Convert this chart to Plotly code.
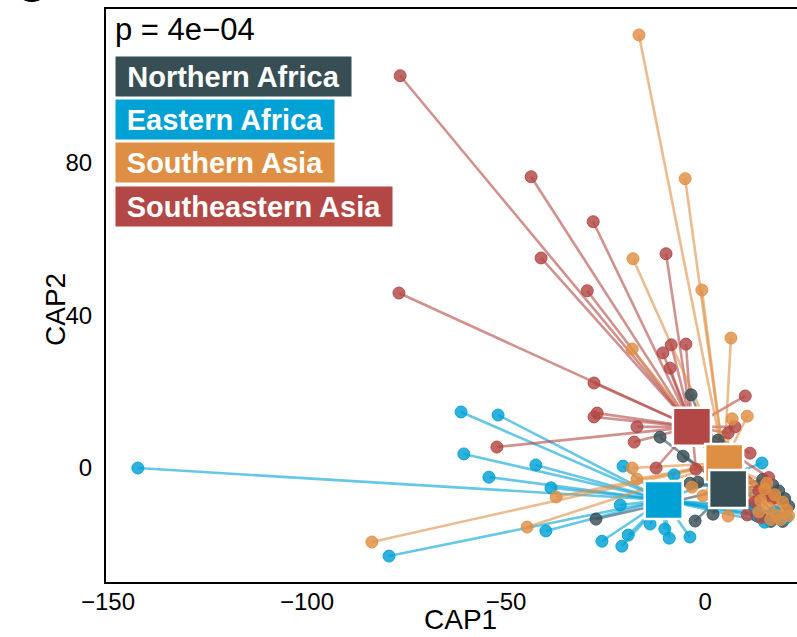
import plotly.graph_objects as go

# ---------------- data ----------------
groups = ["Northern Africa", "Eastern Africa", "Southern Asia", "Southeastern Asia"]
colors = {"Northern Africa": "#374E55", "Eastern Africa": "#00A1D5",
          "Southern Asia": "#DF8F44", "Southeastern Asia": "#B24745"}

centroid_x = {"Northern Africa": 5.8, "Eastern Africa": -10.4,
              "Southern Asia": 4.8, "Southeastern Asia": -3.3}
centroid_y = {"Northern Africa": -5.5, "Eastern Africa": -8.4,
              "Southern Asia": 1.3, "Southeastern Asia": 10.8}

na_x = [-27.4, -11.3, -5.5, -3.5, 3.3, -2.5, 2.0, -1.8, -3.8,
        14.5, 17.0, 20.0, 21.0, 16.5, 19.5, 13.0, 18.5]
na_y = [-13.4, 8.1, 3.1, 19.2, 7.3, -13.9, -12.1, -3.7, -4.0,
        -3.0, -4.5, -8.0, -10.0, -14.0, -14.0, -12.5, -6.0]

ea_x = [-142.5, -61.3, -52.0, -60.6, -54.3, -42.5, -38.7, -79.4, -40.0,
        -25.9, -20.9, -19.3, -13.8, -10.1, -9.0, -3.8, -20.6, -21.3, -7.8, 14.3,
        13.5, 18.5, 20.5, 15.0, 17.5, 12.6]
ea_y = [0.0, 14.7, 13.9, 3.7, -2.4, 0.8, -5.2, -23.1, -16.5,
        -19.2, -20.5, -17.6, -14.7, -16.0, -18.4, -18.1, 0.5, -9.7, -1.8, 1.3,
        -12.8, -13.2, -13.0, -14.2, -11.5, -10.2]

sa_x = [-16.6, -5.0, -18.1, -0.8, -18.3, 6.5, -83.7, -44.7, -37.4, 6.8, 10.6,
        -18.3, -17.1, -3.3, -0.5, 5.8,
        15.0, 17.5, 19.5, 20.5, 16.0, 18.0, 14.0, 21.0, 19.0, 13.5, 16.5, 15.5]
sa_y = [113.6, 75.9, 54.9, 46.7, 31.2, 34.1, -19.4, -15.5, -7.6, 12.9, 13.6,
        0.0, -2.9, -5.0, -7.3, -12.6,
        -5.5, -7.0, -9.0, -11.0, -10.5, -12.5, -8.5, -12.5, -13.5, -11.5, -13.5, -4.0]

sea_x = [-76.6, -43.7, -28.1, -41.2, -76.9, -9.8, -29.6, -8.5, -4.8, -10.6, -8.8,
         -27.9, -27.9, -27.1, -17.1, -17.8, -52.3, 10.1, -12.3, -2.3, 5.8, 7.5,
         11.3, 10.6, 13.5, 15.5, 17.0, 12.5, 14.0, 16.0]
sea_y = [102.9, 76.4, 64.6, 55.1, 45.9, 56.2, 46.5, 32.3, 32.5, 30.2, 26.2,
         22.3, 13.4, 14.4, 10.8, 6.8, 5.5, 18.9, 0.0, -0.3, 9.2, 10.8,
         3.9, -12.3, -6.0, -6.5, -8.0, -9.0, -13.0, -2.5]

points_x = {"Northern Africa": na_x, "Eastern Africa": ea_x,
            "Southern Asia": sa_x, "Southeastern Asia": sea_x}
points_y = {"Northern Africa": na_y, "Eastern Africa": ea_y,
            "Southern Asia": sa_y, "Southeastern Asia": sea_y}

p_label = "p = 4e\u221204"
x_ticks = [-150, -100, -50, 0]
y_ticks = [0, 40, 80]

# ---------------- figure ----------------
W, H = 797, 637
L, R, T, B = 106, 0, 9, 55
PW, PH = W - L - R, H - T - B


def px(xp):
    return (xp - L) / PW


def py(yp):
    return (H - B - yp) / PH


def hex2rgba(h, a):
    h = h.lstrip("#")
    return "rgba(%d,%d,%d,%.2f)" % (int(h[0:2], 16), int(h[2:4], 16), int(h[4:6], 16), a)


fig = go.Figure()

line_order = ["Northern Africa", "Eastern Africa", "Southeastern Asia", "Southern Asia"]
for g in line_order:
    sx, sy = [], []
    for xv, yv in zip(points_x[g], points_y[g]):
        sx += [centroid_x[g], xv, None]
        sy += [centroid_y[g], yv, None]
    fig.add_trace(go.Scatter(x=sx, y=sy, mode="lines",
                             line=dict(color=hex2rgba(colors[g], 0.6), width=2.6),
                             hoverinfo="skip", showlegend=False))

for g in line_order:
    fig.add_trace(go.Scatter(x=points_x[g], y=points_y[g], mode="markers",
                             marker=dict(size=12, color=hex2rgba(colors[g], 0.82),
                                         line=dict(color=hex2rgba(colors[g], 0.9), width=1)),
                             showlegend=False))

for g in ["Eastern Africa", "Southeastern Asia", "Southern Asia", "Northern Africa"]:
    fig.add_trace(go.Scatter(x=[centroid_x[g]], y=[centroid_y[g]], mode="markers",
                             marker=dict(size=38, symbol="square", color=colors[g],
                                         line=dict(color="white", width=2.5)),
                             showlegend=False))

font_main = "Liberation Sans, Arial, Helvetica, sans-serif"

fig.update_layout(
    width=W, height=H,
    margin=dict(l=L, r=R, t=T, b=B, pad=0),
    paper_bgcolor="white", plot_bgcolor="white",
    font=dict(family=font_main, color="black"),
    showlegend=False,
    xaxis=dict(range=[-150.5, 23.1], tickvals=x_ticks, ticks="", showgrid=False,
               zeroline=False, showline=True, linecolor="black", linewidth=2,
               mirror=True, tickfont=dict(size=24, color="black"),
               ticklabelstandoff=-3),
    yaxis=dict(range=[-29.9, 120.4], tickvals=y_ticks, ticks="", showgrid=False,
               zeroline=False, showline=True, linecolor="black", linewidth=2,
               mirror=False, tickfont=dict(size=24, color="black"),
               ticklabelstandoff=7),
)

annotations = []
# axis titles
annotations.append(dict(text="CAP1", x=px(460), y=py(637), xref="paper", yref="paper",
                        xanchor="center", yanchor="bottom", showarrow=False,
                        font=dict(size=28, family=font_main, color="black")))
annotations.append(dict(text="CAP2", x=px(55), y=py(310), xref="paper", yref="paper",
                        xanchor="center", yanchor="middle", showarrow=False, textangle=-90,
                        font=dict(size=28, family=font_main, color="black")))
# p value
annotations.append(dict(text=p_label, x=px(113), y=py(30), xref="paper", yref="paper",
                        xanchor="left", yanchor="middle", showarrow=False,
                        font=dict(size=31, family=font_main, color="black")))
# panel letter (cropped at the top edge, as in the source figure)
annotations.append(dict(text="<b>C</b>", x=px(31), y=py(-13), xref="paper", yref="paper",
                        xanchor="center", yanchor="middle", showarrow=False,
                        font=dict(size=44, family=font_main, color="black")))
# legend labels
box_w = {"Northern Africa": 235, "Eastern Africa": 218, "Southern Asia": 218, "Southeastern Asia": 276}
box_cy = {"Northern Africa": 76, "Eastern Africa": 119.5, "Southern Asia": 162.5, "Southeastern Asia": 206.5}
for g in groups:
    annotations.append(dict(text="<b>%s</b>" % g, x=px(115), y=py(box_cy[g]),
                            xref="paper", yref="paper", xanchor="left", yanchor="middle",
                            showarrow=False, bgcolor=colors[g], borderpad=0,
                            width=box_w[g], height=39, align="center", valign="middle",
                            font=dict(size=29, family=font_main, color="white")))
fig.update_layout(annotations=annotations)

fig.write_html("out.html")
